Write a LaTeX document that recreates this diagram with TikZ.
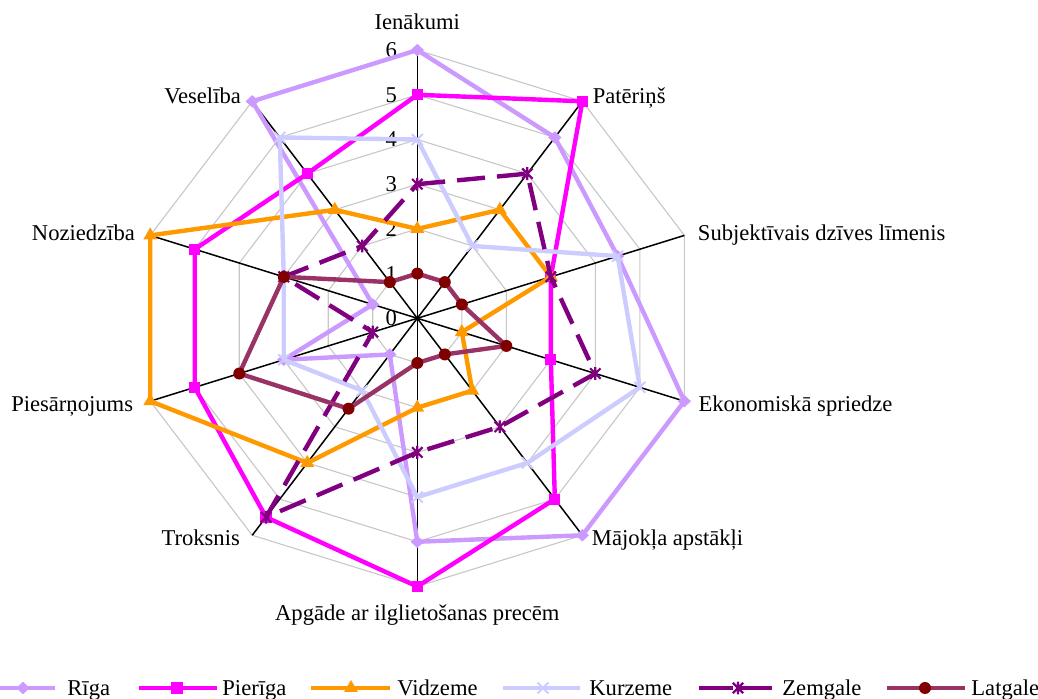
\documentclass[tikz,border=0pt]{standalone}
\usepackage{fontspec}
\setmainfont{Liberation Serif}
\usetikzlibrary{positioning, shapes.geometric, shapes.misc}

\definecolor{riga}{HTML}{CC99FF}
\definecolor{pieriga}{HTML}{FF00FF}
\definecolor{vidzeme}{HTML}{FF9900}
\definecolor{kurzeme}{HTML}{CCCCFF}
\definecolor{zemgale}{HTML}{800080}
\definecolor{latgale}{HTML}{993366}
\definecolor{latgdot}{HTML}{800000}

\tikzset{
  starmark/.pic={
    \draw [zemgale, line width=1.1pt] (-2.6pt,-2.6pt) -- (2.6pt,2.6pt)
      (-2.6pt,2.6pt) -- (2.6pt,-2.6pt) (0pt,-3.2pt) -- (0pt,3.2pt);
  }
}

\begin{document}
\begin{tikzpicture}
  [x=0.5pt, y=0.5pt, font=\fontsize{11.3}{13.5}\selectfont,
   gridring/.style={draw=black!22, line width=0.55pt},
   spokeline/.style={draw=black, line width=0.75pt},
   axlabel/.style={inner sep=0pt},
   ticklabel/.style={inner sep=0pt, anchor=east, xshift=-10pt},
   serline/.style={line width=2.2pt, line join=round},
   zemdash/.style={serline, zemgale, dash pattern=on 14pt off 6pt},
   mkdia/.style={diamond, fill=riga, inner sep=0pt, minimum width=6.8pt, minimum height=6.4pt},
   mksq/.style={rectangle, fill=pieriga, inner sep=0pt, minimum size=5.6pt},
   mktri/.style={regular polygon, regular polygon sides=3, fill=vidzeme, inner sep=0pt, minimum size=8pt},
   mkcross/.style={cross out, draw=kurzeme, line width=1pt, inner sep=0pt, minimum size=4.5pt},
   mkdot/.style={circle, fill=latgdot, inner sep=0pt, minimum size=6pt}]
  \useasboundingbox (0,0) rectangle (1038,699);
  \coordinate (c) at (417.3,380.7);
  \begin{scope}[shift={(c)}, x=23.4pt, y=22.35pt]
    % axis ends
    \foreach \k in {0,...,9}
      \coordinate (a\k) at ({90-36*\k}:6);
    % grid
    \foreach \r in {1,...,6}
      \draw [gridring] (90:\r) \foreach \k in {1,...,9} { -- ({90-36*\k}:\r) } -- cycle;
    \foreach \k in {0,...,9}
      \draw [spokeline] (c) -- (a\k);
    \foreach \v in {0,...,6}
      \node (t\v) [ticklabel] at (90:\v) {\v};

    % axis labels
    \node (l0) [axlabel, above=10pt of a0] {Ienākumi};
    \node (l1) [axlabel, anchor=base west] at ([shift={(5pt,-1.2pt)}]a1) {Patēriņš};
    \node (l2) [axlabel, anchor=base west] at ([shift={(6.6pt,-2.6pt)}]a2) {Subjektīvais dzīves līmenis};
    \node (l3) [axlabel, anchor=base west] at ([shift={(6.9pt,-5.3pt)}]a3) {Ekonomiskā spriedze};
    \node (l4) [axlabel, anchor=base west] at ([shift={(4.6pt,-5.3pt)}]a4) {Mājokļa apstākļi};
    \node (l5) [axlabel, anchor=base] at ([shift={(0pt,-17.2pt)}]a5) {Apgāde ar ilglietošanas precēm};
    \node (l6) [axlabel, anchor=base east] at ([shift={(-6pt,-5.3pt)}]a6) {Troksnis};
    \node (l7) [axlabel, anchor=base east] at ([shift={(-8.4pt,-5pt)}]a7) {Piesārņojums};
    \node (l8) [axlabel, anchor=base east] at ([shift={(-7.5pt,-2.3pt)}]a8) {Noziedzība};
    \node (l9) [axlabel, anchor=base east] at ([shift={(-5.5pt,-0.9pt)}]a9) {Veselība};

    % Riga
    \foreach \v [count=\k from 0] in {6,5,4.5,6,6,5,1,3,1,6}
      \coordinate (ri\k) at ({90-36*\k}:\v);
    \draw [serline, riga] (ri0) \foreach \k in {1,...,9} { -- (ri\k) } -- cycle;
    \foreach \k in {0,...,9}
      \node (rim\k) [mkdia] at (ri\k) {};

    % Pieriga
    \foreach \v [count=\k from 0] in {5,6,3,3,5,6,5.5,5,5,4}
      \coordinate (pi\k) at ({90-36*\k}:\v);
    \draw [serline, pieriga] (pi0) \foreach \k in {1,...,9} { -- (pi\k) } -- cycle;
    \foreach \k in {0,...,9}
      \node (pim\k) [mksq] at (pi\k) {};

    % Vidzeme
    \foreach \v [count=\k from 0] in {2,3,3,1,2,2,4,6,6,3}
      \coordinate (vi\k) at ({90-36*\k}:\v);
    \draw [serline, vidzeme] (vi0) \foreach \k in {1,...,9} { -- (vi\k) } -- cycle;
    \foreach \k in {0,...,9}
      \node (vim\k) [mktri] at (vi\k) {};

    % Kurzeme
    \foreach \v [count=\k from 0] in {4,2,4.5,5,4,4,2,3,3,5}
      \coordinate (ku\k) at ({90-36*\k}:\v);
    \draw [serline, kurzeme] (ku0) \foreach \k in {1,...,9} { -- (ku\k) } -- cycle;
    \foreach \k in {0,...,9}
      \node (kum\k) [mkcross] at (ku\k) {};

    % Zemgale
    \foreach \v [count=\k from 0] in {3,4,3,4,3,3,5.5,1,3,2}
      \coordinate (ze\k) at ({90-36*\k}:\v);
    \draw [zemdash] (ze0) \foreach \k in {1,...,9} { -- (ze\k) } -- cycle;
    \foreach \k in {0,...,9}
      \pic at (ze\k) {starmark};

    % Latgale
    \foreach \v [count=\k from 0] in {1,1,1,2,1,1,2.5,4,3,1}
      \coordinate (la\k) at ({90-36*\k}:\v);
    \draw [serline, latgale] (la0) \foreach \k in {1,...,9} { -- (la\k) } -- cycle;
    \foreach \k in {0,...,9}
      \node (lam\k) [mkdot] at (la\k) {};
  \end{scope}

  % legend
  \foreach \i/\xa/\xb/\xt/\txt in {1/0/55/67/Rīga, 2/139/217/222/Pierīga,
      3/311/390/397/Vidzeme, 4/503/580/589/Kurzeme,
      5/699/772/782/Zemgale, 6/887/965/971/Latgale} {
    \coordinate (ls\i) at (\xa,11);
    \coordinate (le\i) at (\xb,11);
    \node (lt\i) [axlabel, anchor=base west] at (\xt,3) {\txt};
  }
  \draw [serline, riga] (ls1) -- (le1);
  \node (lm1) [mkdia] at (23,11) {};
  \draw [serline, pieriga] (ls2) -- (le2);
  \node (lm2) [mksq] at (177,11) {};
  \draw [serline, vidzeme] (ls3) -- (le3);
  \node (lm3) [mktri] at (351,11) {};
  \draw [serline, kurzeme] (ls4) -- (le4);
  \node (lm4) [mkcross] at (543,11) {};
  \draw [zemdash, dash pattern=on 17pt off 3pt] (ls5) -- (le5);
  \pic at (738,11) {starmark};
  \draw [serline, latgale] (ls6) -- (le6);
  \node (lm6) [mkdot] at (925,11) {};
\end{tikzpicture}
\end{document}
